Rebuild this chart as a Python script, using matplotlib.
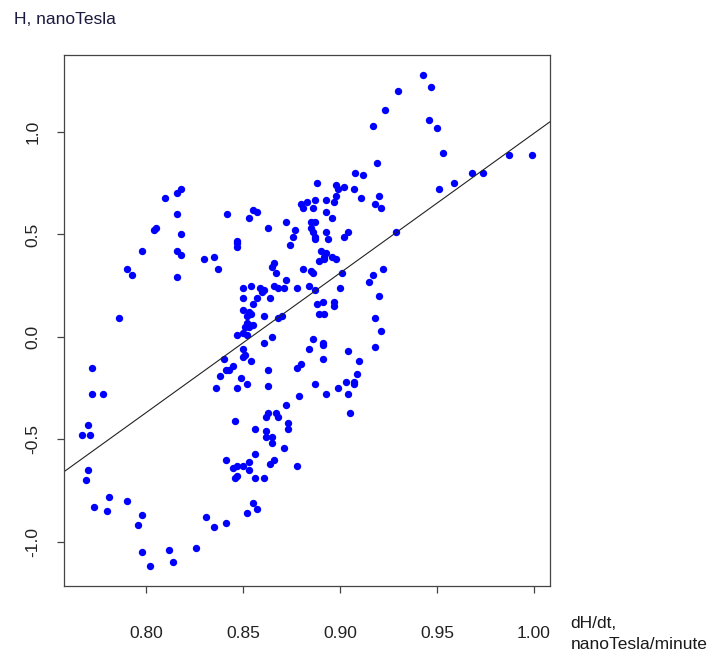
import matplotlib
matplotlib.use("Agg")
import matplotlib.pyplot as plt
import numpy as np

# rate of change of H (x) and H itself (y)
dhdt = [
    0.818, 0.816, 0.810, 0.816, 0.804, 0.805, 0.818, 0.798, 0.816, 0.818,
    0.830, 0.835, 0.837, 0.790, 0.793, 0.816, 0.786, 0.842, 0.853, 0.855,
    0.857, 0.863, 0.847, 0.847, 0.847, 0.872, 0.877, 0.876, 0.874, 0.880,
    0.883, 0.881, 0.866, 0.865, 0.867, 0.881, 0.872, 0.850, 0.854, 0.859,
    0.861, 0.860, 0.866, 0.868, 0.871, 0.878, 0.884, 0.850, 0.857, 0.864,
    0.855, 0.850, 0.853, 0.854, 0.852, 0.861, 0.868, 0.870, 0.852, 0.853,
    0.855, 0.853, 0.851, 0.850, 0.852, 0.847, 0.865, 0.861, 0.850, 0.851,
    0.850, 0.854, 0.840, 0.845, 0.843, 0.841, 0.838, 0.863, 0.849, 0.852,
    0.836, 0.847, 0.863, 0.872, 0.863, 0.862, 0.867, 0.868, 0.846, 0.873,
    0.873, 0.856, 0.862, 0.862, 0.865, 0.865, 0.871, 0.841, 0.856, 0.864,
    0.866, 0.845, 0.847, 0.850, 0.853, 0.853, 0.847, 0.846, 0.856, 0.861,
    0.878, 0.772, 0.772, 0.778, 0.770, 0.767, 0.771, 0.770, 0.769, 0.773,
    0.781, 0.780, 0.790, 0.798, 0.796, 0.798, 0.802, 0.812, 0.814, 0.826,
    0.831, 0.835, 0.841, 0.852, 0.857, 0.855, 0.888, 0.898, 0.902, 0.899,
    0.898, 0.897, 0.893, 0.887, 0.886, 0.893, 0.896, 0.885, 0.887, 0.885,
    0.886, 0.893, 0.894, 0.887, 0.887, 0.902, 0.904, 0.890, 0.892, 0.889,
    0.893, 0.896, 0.898, 0.892, 0.885, 0.886, 0.901, 0.887, 0.900, 0.888,
    0.891, 0.897, 0.897, 0.889, 0.892, 0.908, 0.912, 0.907, 0.911, 0.920,
    0.918, 0.921, 0.929, 0.922, 0.917, 0.915, 0.920, 0.918, 0.921, 0.918,
    0.886, 0.884, 0.891, 0.891, 0.904, 0.880, 0.878, 0.891, 0.910, 0.909,
    0.887, 0.903, 0.907, 0.907, 0.899, 0.893, 0.904, 0.905, 0.879, 0.943,
    0.930, 0.947, 0.923, 0.917, 0.946, 0.950, 0.953, 0.919, 0.987, 0.999,
    0.968, 0.974, 0.959, 0.951,
]
h = [
    0.72, 0.70, 0.68, 0.60, 0.52, 0.53, 0.50, 0.42, 0.42, 0.40,
    0.38, 0.39, 0.33, 0.33, 0.30, 0.29, 0.09, 0.60, 0.58, 0.62,
    0.61, 0.53, 0.47, 0.46, 0.44, 0.56, 0.52, 0.49, 0.45, 0.65,
    0.66, 0.63, 0.36, 0.34, 0.31, 0.33, 0.28, 0.24, 0.25, 0.24,
    0.23, 0.22, 0.25, 0.24, 0.24, 0.24, 0.25, 0.19, 0.19, 0.19,
    0.16, 0.13, 0.12, 0.11, 0.10, 0.10, 0.09, 0.10, 0.07, 0.06,
    0.06, 0.05, 0.05, 0.02, 0.01, 0.01, 0.00, -0.03, -0.06, -0.09,
    -0.10, -0.12, -0.11, -0.14, -0.16, -0.16, -0.19, -0.16, -0.20, -0.23,
    -0.25, -0.25, -0.24, -0.33, -0.37, -0.39, -0.37, -0.39, -0.41, -0.42,
    -0.45, -0.45, -0.46, -0.49, -0.49, -0.52, -0.54, -0.60, -0.57, -0.62,
    -0.60, -0.64, -0.63, -0.63, -0.61, -0.65, -0.68, -0.69, -0.69, -0.69,
    -0.63, -0.15, -0.28, -0.28, -0.43, -0.48, -0.48, -0.65, -0.70, -0.83,
    -0.78, -0.85, -0.80, -0.87, -0.92, -1.05, -1.12, -1.04, -1.10, -1.03,
    -0.88, -0.93, -0.91, -0.86, -0.84, -0.81, 0.75, 0.74, 0.73, 0.72,
    0.69, 0.66, 0.67, 0.67, 0.63, 0.61, 0.58, 0.56, 0.56, 0.53,
    0.51, 0.51, 0.48, 0.49, 0.48, 0.49, 0.51, 0.42, 0.39, 0.37,
    0.41, 0.39, 0.38, 0.38, 0.32, 0.31, 0.31, 0.23, 0.24, 0.16,
    0.17, 0.17, 0.15, 0.11, 0.11, 0.80, 0.79, 0.72, 0.68, 0.69,
    0.65, 0.63, 0.51, 0.33, 0.30, 0.27, 0.20, 0.09, 0.03, -0.05,
    -0.01, -0.06, -0.03, -0.04, -0.07, -0.13, -0.15, -0.11, -0.12, -0.18,
    -0.23, -0.22, -0.22, -0.23, -0.25, -0.28, -0.28, -0.37, -0.29, 1.28,
    1.20, 1.22, 1.11, 1.03, 1.06, 1.02, 0.90, 0.85, 0.89, 0.89,
    0.80, 0.80, 0.75, 0.72,
]

xticks = [0.80, 0.85, 0.90, 0.95, 1.00]
yticks = [-1.0, -0.5, 0.0, 0.5, 1.0]

plt.rcParams['font.family'] = ['Liberation Sans', 'DejaVu Sans']

fig = plt.figure(figsize=(7.25, 6.58), dpi=100)
ax = fig.add_axes([0.0883, 0.1094, 0.6703, 0.807])

ax.plot(dhdt, h, 'o', color='#0000ff', markersize=5.3, markeredgewidth=0)

# least squares line, like abline(lm(...)) in R
slope, icpt = np.polyfit(dhdt, h, 1)
ax.axline((0.9, icpt + slope * 0.9), slope=slope, color='#222222', lw=0.8)

ax.margins(x=0.04, y=0.04)
ax.set_xticks(xticks)
ax.set_xticklabels([f"{v:.2f}" for v in xticks])
ax.set_yticks(yticks)
ax.set_yticklabels([f"{v:.1f}" for v in yticks], rotation=90, va='center')

for s in ax.spines.values():
    s.set_color('#444444')
    s.set_linewidth(0.9)
ax.tick_params(direction='out', length=5, width=0.9, color='#444444',
               labelsize=12.5, labelcolor='#222222')
ax.tick_params(axis='x', pad=24)
ax.tick_params(axis='y', pad=12)

fig.text(0.02, 0.970, "H, nanoTesla", fontsize=12.5, color='#1a1a40', va='center')
fig.text(0.787, 0.037, "dH/dt,\nnanoTesla/minute", fontsize=12.5, color='#1a1a1a',
         va='center', linespacing=1.5)

fig.savefig("out.png", dpi=100)
